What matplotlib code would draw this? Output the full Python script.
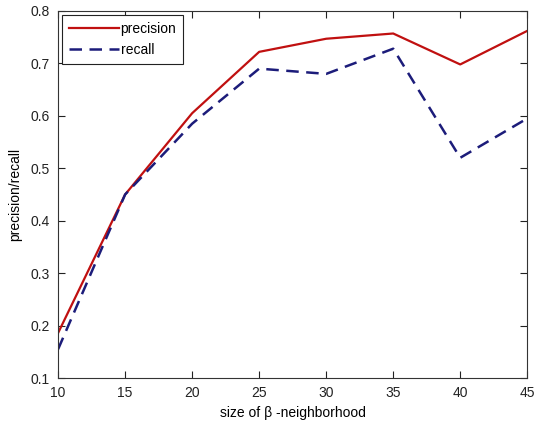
import matplotlib
matplotlib.use("Agg")
import matplotlib.pyplot as plt

sizes = [10, 15, 20, 25, 30, 35, 40, 45]
precision = [0.186, 0.45, 0.605, 0.722, 0.747, 0.757, 0.698, 0.762]
recall = [0.155, 0.45, 0.585, 0.69, 0.68, 0.728, 0.52, 0.595]

plt.rcParams['font.family'] = ['Liberation Sans', 'DejaVu Sans']
plt.rcParams['font.size'] = 10

fig = plt.figure(figsize=(5.38, 4.21), dpi=100)
ax = fig.add_axes([0.108, 0.102, 0.872, 0.872])

ax.plot(sizes, precision, color="#c01010", lw=1.6, label="precision")
ax.plot(sizes, recall, color="#1c1c7a", lw=1.8, ls=(0, (5, 3)), label="recall")

ax.set_xlim(10, 45)
ax.set_ylim(0.1, 0.8)
ax.set_xticks(range(10, 46, 5))
ax.set_yticks([0.1, 0.2, 0.3, 0.4, 0.5, 0.6, 0.7, 0.8])
ax.set_yticklabels(["0.1", "0.2", "0.3", "0.4", "0.5", "0.6", "0.7", "0.8"])
ax.tick_params(direction="in", top=True, right=True, length=5, pad=6, colors="#222222")
for s in ax.spines.values():
    s.set_color("#333333")

ax.set_xlabel("size of β -neighborhood", labelpad=4)
ax.set_ylabel("precision/recall", labelpad=6)

leg = ax.legend(loc="upper left", fancybox=False, framealpha=1, edgecolor="#222222",
                handlelength=3.6, handletextpad=0.1, borderaxespad=0.3,
                labelspacing=0.5, borderpad=0.5)
leg.get_frame().set_linewidth(0.8)

fig.savefig("out.png", dpi=100)
